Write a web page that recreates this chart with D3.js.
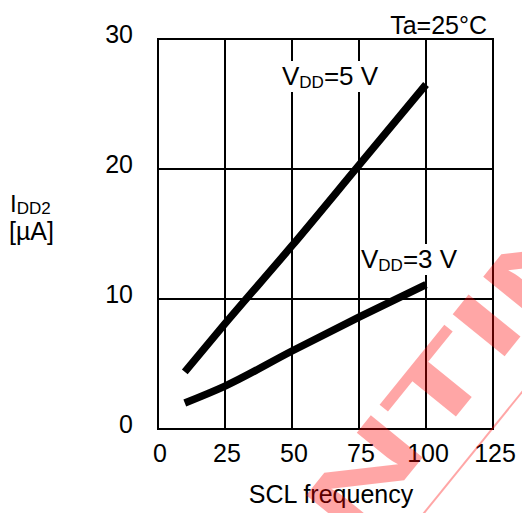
<!DOCTYPE html>
<html><head><meta charset="utf-8">
<script src="https://cdn.jsdelivr.net/npm/d3@7"></script>
<style>
html,body{margin:0;padding:0;background:#fff;}
svg{display:block;font-family:"Liberation Sans",Arial,sans-serif;}
</style></head>
<body>
<script>
// ---- data ----
const xTicks = [0, 25, 50, 75, 100, 125];
const yTicks = [0, 10, 20, 30];
const freq = [10, 25, 50, 75, 100];
const idd5V = [4.4, 8.1, 14.1, 20.3, 26.5];
const idd3V = [2.0, 3.3, 6.0, 8.6, 11.1];
const seriesNames = ["5 V", "3 V"];
const watermark = "DISCONTINUED";

const W = 522, H = 513;
const svg = d3.select("body").append("svg").attr("width", W).attr("height", H);

const x = d3.scaleLinear().domain([0, 125]).range([158, 493]);
const y = d3.scaleLinear().domain([0, 30]).range([429, 39]);

// grid
const g = svg.append("g");
g.selectAll("line.v").data(xTicks).join("line")
  .attr("x1", d => x(d)).attr("x2", d => x(d))
  .attr("y1", y(0)).attr("y2", y(30))
  .attr("stroke", "#000").attr("stroke-width", 2);
g.selectAll("line.h").data(yTicks).join("line")
  .attr("x1", x(0) - 1).attr("x2", x(125) + 1)
  .attr("y1", d => y(d)).attr("y2", d => y(d))
  .attr("stroke", "#000").attr("stroke-width", 2);

// tick labels
svg.selectAll("text.yt").data(yTicks).join("text")
  .attr("x", 133).attr("y", d => y(d) + 4)
  .attr("text-anchor", "end").attr("font-size", 25).attr("fill", "#000")
  .text(d => d);
svg.selectAll("text.xt").data(xTicks).join("text")
  .attr("x", d => x(d) + 2).attr("y", 462)
  .attr("text-anchor", "middle").attr("font-size", 25).attr("fill", "#000")
  .text(d => d);

svg.append("text").attr("x", 331).attr("y", 503).attr("text-anchor", "middle")
  .attr("font-size", 25).text("SCL frequency");

svg.append("text").attr("x", 487).attr("y", 34).attr("text-anchor", "end")
  .attr("font-size", 25).text("Ta=25°C");

// y label
const yl = svg.append("text").attr("x", 10).attr("y", 212).attr("font-size", 24);
yl.append("tspan").text("I");
yl.append("tspan").attr("font-size", 17).attr("dy", 2).text("DD2");
svg.append("text").attr("x", 9).attr("y", 240).attr("font-size", 25).text("[µA]");

// curves
const line = d3.line().x((d, i) => x(freq[i])).y(d => y(d)).curve(d3.curveMonotoneX);
[idd5V, idd3V].forEach(s => {
  svg.append("path").datum(s).attr("d", line)
    .attr("fill", "none").attr("stroke", "#000").attr("stroke-width", 7.5)
    .attr("stroke-linecap", "butt").attr("stroke-linejoin", "round");
});

// series labels with white background
function vlabel(px, py, name) {
  const t = svg.append("text").attr("x", px).attr("y", py).attr("font-size", 26);
  t.append("tspan").text("V");
  t.append("tspan").attr("font-size", 17).attr("dy", 3).text("DD");
  t.append("tspan").attr("dy", -3).text("=" + name);
  const b = t.node().getBBox();
  svg.insert("rect", () => t.node())
    .attr("x", b.x - 1).attr("y", b.y).attr("width", b.width + 2).attr("height", b.height)
    .attr("fill", "#fff");
}
vlabel(282, 85, seriesNames[0]);
vlabel(361, 268, seriesNames[1]);

// watermark
const wm = svg.append("g").attr("transform", "translate(424,513) rotate(-51)");
wm.append("g").attr("transform", "scale(1.8,1)")
  .append("text").attr("x", 22).attr("y", -36).attr("text-anchor", "middle")
  .attr("font-size", 97).attr("font-weight", "bold")
  .attr("fill", "rgba(255,0,0,0.35)").text(watermark);
wm.append("line").attr("x1", -400).attr("x2", 400).attr("y1", 0).attr("y2", 0)
  .attr("stroke", "rgba(255,0,0,0.35)").attr("stroke-width", 2);
</script>
</body></html>
